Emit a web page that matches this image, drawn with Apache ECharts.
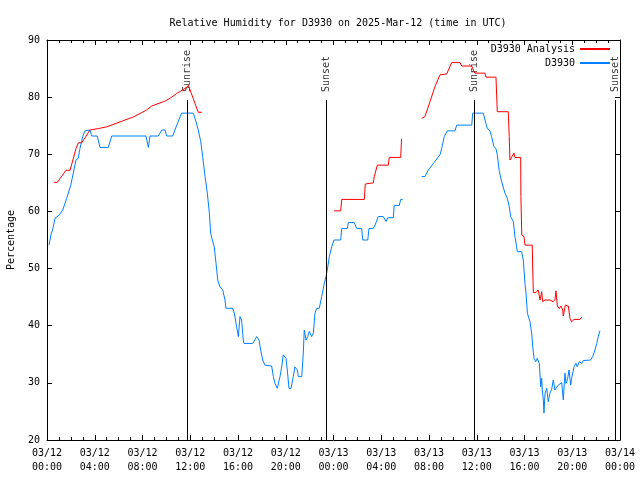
<!DOCTYPE html>
<html>
<head>
<meta charset="utf-8">
<script src="https://cdn.jsdelivr.net/npm/echarts@6/dist/echarts.min.js"></script>
<style>html,body{margin:0;padding:0;background:#fff}#c{width:640px;height:480px}</style>
</head>
<body>
<div id="c"></div>
<script>
// hours since 2025-03-12 00:00 UTC
var xTickLabels = ['03/12\n00:00','03/12\n04:00','03/12\n08:00','03/12\n12:00','03/12\n16:00','03/12\n20:00','03/13\n00:00','03/13\n04:00','03/13\n08:00','03/13\n12:00','03/13\n16:00','03/13\n20:00','03/14\n00:00'];
var yTicks = [20,30,40,50,60,70,80,90];

var analysisSeg1 = [[0.59,65.1],[0.86,65.1],[1.59,67.2],[1.93,67.2],[2.43,71.0],[2.62,72.0],[2.91,72.0],[3.60,74.25],[4.3,74.5],[5.0,74.8],[5.53,75.2],[6.53,76.0],[7.2,76.5],[8.35,77.75],[8.77,78.45],[9.88,79.3],[10.3,79.8],[10.87,80.65],[11.7,81.7],[11.84,82.1],[12.67,77.35],[12.96,77.35]];
var analysisSeg2 = [[24.04,60.1],[24.6,60.1],[24.69,62.1],[26.58,62.1],[26.66,64.8],[27.33,65.0],[27.42,66.1],[27.67,68.1],[28.59,68.1],[28.67,69.45],[29.63,69.45],[29.7,72.7]];
var analysisSeg3 = [[31.39,76.3],[31.66,76.6],[32.08,79.2],[32.5,81.85],[32.92,83.9],[33.06,84.05],[33.48,84.05],[33.9,86.05],[34.6,86.05],[34.74,85.45],[35.58,85.45],[35.71,84.75],[35.85,84.2],[36.69,84.2],[36.77,83.5],[37.61,83.5],[37.72,77.45],[38.64,77.45],[38.72,73.1],[38.78,69.0],[38.93,69.0],[39.12,70.2],[39.2,69.45],[39.68,69.45],[39.7,62.6],[39.77,55.9],[39.96,55.6],[40.04,54.1],[40.65,54.1],[40.69,49.75],[40.74,45.8],[40.96,45.8],[41.15,46.25],[41.3,44.5],[41.44,45.95],[41.52,44.2],[41.72,44.5],[42.13,44.5],[42.41,44.2],[42.55,44.6],[42.64,46.1],[42.75,43.45],[42.91,43.0],[43.06,43.45],[43.2,42.75],[43.25,41.7],[43.42,43.6],[43.67,43.45],[43.81,41.3],[43.95,40.7],[44.15,41.1],[44.65,41.1],[44.79,41.5]];

var obsSeg1 = [[0.17,54.1],[0.34,56.0],[0.48,56.9],[0.67,58.8],[1.03,59.4],[1.32,60.25],[1.65,62.3],[1.99,64.6],[2.2,66.7],[2.43,69.0],[2.62,69.3],[2.76,71.0],[2.99,73.1],[3.18,74.1],[3.6,74.25],[3.74,73.2],[4.21,73.2],[4.44,71.2],[5.14,71.2],[5.42,73.2],[8.29,73.2],[8.49,71.2],[8.63,73.2],[9.32,73.2],[9.61,74.25],[9.88,74.25],[10.03,73.2],[10.53,73.2],[10.87,75.1],[11.28,77.2],[12.26,77.2],[12.48,75.7],[12.67,74.25],[12.88,72.2],[13.04,69.6],[13.24,66.1],[13.43,63.2],[13.6,59.7],[13.71,56.2],[13.85,55.0],[14.01,53.8],[14.16,50.9],[14.3,48.0],[14.49,46.8],[14.72,46.25],[14.91,44.5],[14.99,43.05],[15.56,43.05],[15.69,42.2],[15.89,39.8],[16.03,38.1],[16.17,41.6],[16.3,41.0],[16.44,37.5],[16.5,36.9],[17.23,36.9],[17.57,38.1],[17.76,37.5],[17.9,35.75],[18.07,34.0],[18.26,33.1],[18.82,32.95],[18.96,31.1],[19.1,29.9],[19.29,29.05],[19.52,31.1],[19.66,32.8],[19.79,34.9],[20.02,34.3],[20.13,32.25],[20.27,29.05],[20.44,29.05],[20.63,31.1],[20.77,32.8],[20.97,32.25],[21.05,31.1],[21.34,31.1],[21.47,35.2],[21.55,39.25],[21.7,37.5],[21.84,38.1],[21.97,39.0],[22.17,38.1],[22.31,38.7],[22.45,42.2],[22.59,43.05],[22.81,43.05],[23.01,45.1],[23.2,47.1],[23.37,48.6],[23.48,49.75],[23.65,52.1],[23.85,53.8],[24.04,55.0],[24.6,55.0],[24.69,57.0],[25.16,57.0],[25.24,58.05],[25.74,58.05],[25.94,57.0],[26.36,57.0],[26.45,55.0],[26.87,55.0],[26.97,57.0],[27.33,57.0],[27.48,57.6],[27.75,59.1],[28.17,59.1],[28.4,58.25],[28.54,58.9],[29.01,58.9],[29.09,61.05],[29.51,61.05],[29.63,62.1],[29.8,62.1]];
var obsSeg2 = [[31.39,66.1],[31.66,66.1],[31.94,67.25],[32.36,68.4],[32.92,69.9],[33.06,71.0],[33.28,73.1],[33.53,74.1],[34.18,74.1],[34.32,75.1],[35.58,75.1],[35.66,77.2],[36.55,77.2],[36.69,76.0],[36.88,74.5],[37.1,74.1],[37.24,73.1],[37.44,71.35],[37.61,71.0],[37.72,69.9],[37.89,67.0],[38.09,65.2],[38.22,65.2],[38.36,63.2],[38.56,62.3],[38.72,60.85],[38.84,59.1],[39.0,59.4],[39.06,58.25],[39.2,55.6],[39.34,53.8],[39.39,52.95],[39.76,52.95],[39.9,51.5],[40.04,47.4],[40.13,45.65],[40.24,42.2],[40.46,40.7],[40.6,38.7],[40.69,36.3],[40.8,34.3],[40.94,33.7],[41.07,34.3],[41.19,34.6],[41.24,33.4],[41.36,29.3],[41.44,30.8],[41.49,28.75],[41.58,27.0],[41.63,24.7],[41.72,28.2],[41.86,29.05],[41.99,26.7],[42.13,28.2],[42.28,28.9],[42.41,30.5],[42.55,28.75],[42.83,29.6],[43.12,30.05],[43.25,27.0],[43.39,31.7],[43.48,29.9],[43.62,30.8],[43.73,32.25],[43.87,29.6],[43.95,30.8],[44.15,32.8],[44.31,33.4],[44.42,32.8],[44.59,33.7],[44.79,33.4],[44.92,33.9],[45.55,34.0],[45.71,34.6],[45.9,35.75],[46.05,36.9],[46.18,38.1],[46.32,39.15]];

var sunNames = ['Sunrise','Sunset','Sunrise','Sunset'];
var sunHours = [11.73, 23.37, 35.77, 47.58];
var sunLineTop = 79.5;

function joinSegs(segs){
  var out = [];
  segs.forEach(function(s,i){ if(i>0) out.push(['-','-']); out = out.concat(s); });
  return out;
}

var FONT = 'DejaVu Sans Mono';
var chart = echarts.init(document.getElementById('c'), null, {renderer:'canvas'});
var axisCommon = {
  axisLine:{show:true,onZero:false,lineStyle:{color:'#000',width:1}},
  splitLine:{show:false}
};
chart.setOption({
  animation:false,
  backgroundColor:'#fff',
  textStyle:{fontFamily:FONT},
  title:{text:'Relative Humidity for D3930 on 2025-Mar-12 (time in UTC)',left:333,top:13,textAlign:'center',
    textStyle:{fontFamily:FONT,fontSize:10,fontWeight:'normal',color:'#000'}},
  legend:{right:30,top:44,padding:0,orient:'vertical',align:'right',itemWidth:30,itemHeight:2,itemGap:4,icon:'rect',
    textStyle:{fontFamily:FONT,fontSize:10,color:'#000',padding:[0,0,0,0]},
    data:[{name:'D3930 Analysis',itemStyle:{color:'#ff0000'}},{name:'D3930',itemStyle:{color:'#0080ff'}}]},
  grid:{left:47,right:20,top:40,bottom:40,containLabel:false,outerBoundsMode:'none'},
  xAxis:[
    Object.assign({type:'value',min:0,max:48,interval:4,position:'bottom',
      axisTick:{show:true,inside:true,length:5,lineStyle:{color:'#000'}},
      minorTick:{show:true,splitNumber:4,length:3,lineStyle:{color:'#000'}},
      axisLabel:{show:true,color:'#000',fontFamily:FONT,fontSize:10,lineHeight:14,margin:6,
        formatter:function(v){return xTickLabels[Math.round(v/4)];}}},axisCommon),
    Object.assign({type:'value',min:0,max:48,interval:4,position:'top',
      axisTick:{show:true,inside:true,length:5,lineStyle:{color:'#000'}},
      minorTick:{show:true,splitNumber:4,length:3,lineStyle:{color:'#000'}},
      axisLabel:{show:false}},axisCommon)
  ],
  yAxis:[
    Object.assign({type:'value',min:yTicks[0],max:yTicks[yTicks.length-1],interval:10,position:'left',
      name:'Percentage',nameLocation:'middle',nameRotate:90,nameGap:31,
      nameTextStyle:{fontFamily:FONT,fontSize:10,color:'#000'},
      axisTick:{show:true,inside:true,length:5,lineStyle:{color:'#000'}},
      axisLabel:{color:'#000',fontFamily:FONT,fontSize:10,margin:7}},axisCommon),
    Object.assign({type:'value',min:yTicks[0],max:yTicks[yTicks.length-1],interval:10,position:'right',
      axisTick:{show:true,inside:true,length:5,lineStyle:{color:'#000'}},
      axisLabel:{show:false}},axisCommon)
  ],
  series:[
    {name:'D3930 Analysis',type:'line',data:joinSegs([analysisSeg1,analysisSeg2,analysisSeg3]),
      showSymbol:false,symbol:'none',connectNulls:false,lineStyle:{color:'#ff0000',width:1},itemStyle:{color:'#ff0000'}},
    {name:'D3930',type:'line',data:joinSegs([obsSeg1,obsSeg2]),
      showSymbol:false,symbol:'none',connectNulls:false,lineStyle:{color:'#0080ff',width:1},itemStyle:{color:'#0080ff'}},
    {name:'sun',type:'scatter',symbolSize:0,silent:true,
      data:sunHours.map(function(h,i){return {name:sunNames[i],value:[h,sunLineTop]};}),
      label:{show:true,formatter:'{b}',position:'top',distance:8,rotate:90,align:'left',verticalAlign:'middle',
        fontFamily:FONT,fontSize:10,color:'#000'},
      markLine:{silent:true,symbol:'none',animation:false,label:{show:false},
        lineStyle:{color:'#000',width:1,type:'solid'},
        data:sunHours.map(function(h){return [{coord:[h,yTicks[0]]},{coord:[h,sunLineTop]}];})}}
  ]
});
</script>
</body>
</html>
